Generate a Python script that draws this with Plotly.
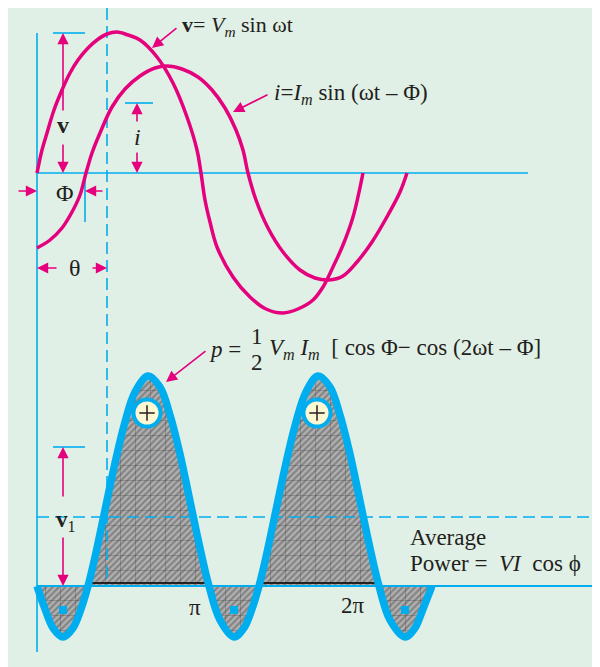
import plotly.graph_objects as go

# v = Vm sin wt  (pixel space)
v_x = [37, 42, 47, 54, 62, 70, 78, 88, 97, 107, 117, 128, 140, 157, 173, 187, 197, 201, 205, 210,
       217, 233, 250, 266, 283, 298, 313, 323, 333, 343, 353, 363]
v_y = [173, 150, 133, 110, 90, 73, 60, 48, 40, 34, 32, 35, 40, 57, 83, 117, 150, 173, 200, 222,
       247, 277, 297, 309, 313, 309, 300, 287, 267, 245, 217, 173]

# i = Im sin(wt - phi)
i_x = [37, 50, 62, 72, 80, 86, 92, 100, 112, 125, 140, 155, 167, 182, 198, 212, 225, 236, 243, 248,
       256, 268, 283, 300, 315, 329, 343, 357, 372, 388, 400, 407]
i_y = [248, 240, 228, 212, 195, 173, 153, 133, 107, 89, 76, 68, 66, 69, 77, 90, 108, 130, 150, 173,
       200, 228, 252, 270, 278, 280, 276, 262, 242, 215, 192, 173]

# p = 1/2 Vm Im [cos phi - cos(2wt - phi)]
p_x = [37, 45, 53, 63, 73, 81, 88, 95, 105, 115, 125, 135, 148, 160, 170, 180, 190, 200, 209, 220,
       234, 244, 252, 259, 266, 276, 286, 296, 306, 318, 330, 340, 350, 360, 370, 379, 390, 405,
       415, 423, 432]
p_y = [586, 609, 628, 637, 628, 609, 586, 557, 510, 463, 422, 392, 376, 387, 415, 454, 501, 548, 586, 620,
       637, 628, 609, 586, 557, 510, 463, 422, 392, 376, 387, 415, 454, 501, 548, 586, 620, 637,
       628, 609, 586]

plus_x = [147, 317]
plus_y = [413, 413]
minus_x = [63, 234, 405]
minus_y = [610, 610, 610]

MAG = '#e5007d'
CYAN = '#00aeef'
INK = '#231f20'
FONT = 'Liberation Serif'

fig = go.Figure()

# shaded power area (hatch + grid)
fig.add_trace(go.Scatter(x=p_x, y=p_y, mode='lines', fill='toself', line=dict(width=0, shape='spline'),
                         fillcolor='#9a9a9a',
                         fillpattern=dict(shape='/', bgcolor='#b2b2b2', fgcolor='#555555', size=4.5, solidity=0.5),
                         hoverinfo='skip'))
fig.add_trace(go.Scatter(x=p_x, y=p_y, mode='lines', fill='toself', line=dict(width=0, shape='spline'),
                         fillpattern=dict(shape='+', bgcolor='rgba(0,0,0,0)', fgcolor='#333333', size=15, solidity=0.07),
                         hoverinfo='skip'))


def seg(xs, ys, color=CYAN, width=1.6, dash=None):
    fig.add_trace(go.Scatter(x=xs, y=ys, mode='lines', line=dict(color=color, width=width, dash=dash),
                             hoverinfo='skip'))


# black base line under positive lobes
seg([92, 207], [583, 583], color='#222', width=2)
seg([261, 378], [583, 583], color='#222', width=2)

# axes and guide lines
seg([37, 37], [33, 652])
seg([37, 528], [173, 173])
seg([37, 600], [586, 586], width=2)
seg([107, 107], [8, 585], dash='12px,6px')
seg([37, 600], [517, 517], dash='12px,6px')
seg([53, 85], [33, 33])
seg([125, 153], [103, 103])
seg([53, 85], [447, 447])
seg([85, 85], [173, 222])

# voltage and current
fig.add_trace(go.Scatter(x=v_x, y=v_y, mode='lines', line=dict(color=MAG, width=3.5, shape='spline'), hoverinfo='skip'))
fig.add_trace(go.Scatter(x=i_x, y=i_y, mode='lines', line=dict(color=MAG, width=3.5, shape='spline'), hoverinfo='skip'))

# power curve
fig.add_trace(go.Scatter(x=p_x, y=p_y, mode='lines', line=dict(color=CYAN, width=7.5, shape='spline'), hoverinfo='skip'))

fig.add_trace(go.Scatter(x=plus_x, y=plus_y, mode='markers',
                         marker=dict(symbol='circle', size=27, color='#fdf7d2', line=dict(color=CYAN, width=4)),
                         hoverinfo='skip'))
fig.add_trace(go.Scatter(x=plus_x, y=plus_y, mode='markers',
                         marker=dict(symbol='cross-thin', size=11, line=dict(color=INK, width=1.5)),
                         hoverinfo='skip'))
fig.add_trace(go.Scatter(x=minus_x, y=minus_y, mode='markers',
                         marker=dict(symbol='square', size=8, color=CYAN, line=dict(width=0)),
                         hoverinfo='skip'))

ann = []


def arrow(x, y, ax, ay):
    ann.append(dict(x=x, y=y, ax=ax, ay=ay, xref='x', yref='y', axref='x', ayref='y', text='',
                    showarrow=True, arrowhead=2, arrowsize=1.4, arrowwidth=1.6, arrowcolor=MAG))


def label(x, y, text, size=22, anchor='center'):
    ann.append(dict(x=x, y=y, xref='x', yref='y', text=text, showarrow=False, xanchor=anchor,
                    yanchor='middle', font=dict(family=FONT, size=size, color=INK)))


arrow(63, 33, 63, 112)
arrow(63, 173, 63, 143)
arrow(137, 103, 137, 123)
arrow(137, 173, 137, 151)
arrow(37, 191, 17, 191)
arrow(85, 191, 104, 191)
arrow(37, 268, 58, 268)
arrow(107, 268, 91, 268)
arrow(63, 447, 63, 498)
arrow(63, 586, 63, 536)
arrow(152, 48, 178, 27)
arrow(233, 112, 269, 94)
arrow(166, 382, 207, 350)

label(63, 125, '<b>v</b>', size=24)
label(137, 137, '<i>i</i>', size=24)
label(65, 193, 'Φ', size=24)
label(75, 268, 'θ', size=24)
label(66, 521, '<b>v</b><sub>1</sub>', size=23)
label(195, 607, 'π', size=23)
label(353, 605, '2π', size=23)
label(180, 26, '<b>v</b>= <i>V<sub>m</sub></i> sin ωt', size=22, anchor='left')
label(272, 94, '<i>i</i>=<i>I<sub>m</sub></i> sin (ωt – Φ)', size=23, anchor='left')
label(207, 349, '<i>p</i> = ', size=23, anchor='left')
label(257, 336, '1', size=23)
label(257, 362, '2', size=23)
label(267, 349, '<i>V<sub>m</sub></i> <i>I<sub>m</sub></i>&nbsp; [ cos Φ− cos (2ωt – Φ]', size=23, anchor='left')
label(408, 537, 'Average', size=23, anchor='left')
label(408, 563, 'Power =&nbsp;&nbsp;<i>VI</i>&nbsp;&nbsp;cos ϕ', size=23, anchor='left')

# the page body adds an 8px white margin, so the axes start 8px in
fig.update_layout(
    width=600, height=667, margin=dict(l=0, r=0, t=0, b=0),
    paper_bgcolor='#e1f0e6', plot_bgcolor='#e1f0e6', showlegend=False,
    xaxis=dict(range=[8, 608], visible=False),
    yaxis=dict(range=[675, 8], visible=False),
    annotations=ann,
)

fig.write_html("out.html")
